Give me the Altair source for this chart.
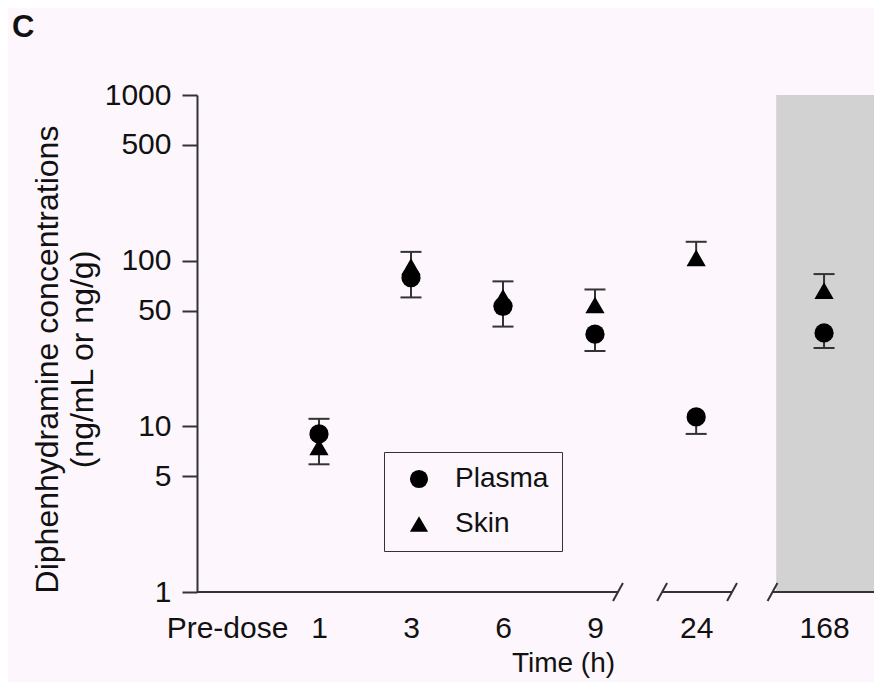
import altair as alt
import pandas as pd

# ---- data ----
categories = ["Pre-dose", "1", "3", "6", "9", "24", "168"]
times = ["1", "3", "6", "9", "24", "168"]
plasma_mean = [9.0, 79, 53, 36, 11.4, 36.6]
plasma_sd = [3.1, 19, 13, 7.5, 2.4, 6.9]     # drawn downward
skin_mean = [7.5, 92, 60, 54, 104, 66]
skin_sd = [3.6, 21, 15, 13, 26, 17]           # drawn upward
y_ticks = [1, 5, 10, 50, 100, 500, 1000]
y_domain = [1, 1000]
panel_label = ["C"]

# ---- layout of the broken time axis (slot units) ----
slot = [0, 1, 2, 3, 4, 5.1, 6.49]
x_domain = [-0.326, 7.033]
seg_start = [-0.326, 4.73, 5.93]
seg_end = [4.25, 5.49, 7.033]
break_pos = [4.25, 4.73, 5.49, 5.93]
shade_start, shade_end = 5.97, 7.033

FONT = "Liberation Sans"
INK = "#333333"
BG = "#fdf7fd"

pos = dict(zip(categories, slot))
rows = []
for t, m, s in zip(times, skin_mean, skin_sd):
    rows.append({"series": "Skin", "time": t, "pos": pos[t], "mean": m, "end": m + s})
for t, m, s in zip(times, plasma_mean, plasma_sd):
    rows.append({"series": "Plasma", "time": t, "pos": pos[t], "mean": m, "end": m - s})
df = pd.DataFrame(rows)

segs = pd.DataFrame({"x": seg_start, "x2": seg_end, "y": [y_domain[0]] * len(seg_start)})
brk = pd.DataFrame({"x": break_pos, "y": [y_domain[0]] * len(break_pos)})
shade = pd.DataFrame({"x": [shade_start], "x2": [shade_end], "y": [y_domain[0]], "y2": [y_domain[1]]})

xscale = alt.Scale(domain=x_domain, nice=False, zero=False)
yscale = alt.Scale(type="log", domain=y_domain, nice=False)

label_expr = " : ".join(
    f"datum.value == {p} ? '{c}'" for p, c in zip(slot, categories)
) + " : ''"

x_axis = alt.Axis(
    values=slot, labelExpr=label_expr, domain=False, ticks=False, grid=False,
    labelFontSize=30, labelFont=FONT, labelColor="#111", labelPadding=21,
    labelFlush=False, labelOverlap=False,
    title="Time (h)", titleFont=FONT, titleFontSize=28, titleFontWeight="normal",
    titleColor="#111", titleX=366, titleY=71, titleBaseline="middle", titleAnchor="middle",
)
y_axis = alt.Axis(
    values=y_ticks, format="d", grid=False, domainColor=INK, domainWidth=2,
    tickColor=INK, tickWidth=2, tickSize=15, labelFontSize=30, labelFont=FONT,
    labelColor="#111", labelPadding=11,
    title=["Diphenhydramine concentrations", "(ng/mL or ng/g)"],
    titleFont=FONT, titleFontSize=32, titleFontWeight="normal", titleColor="#111",
    titleLineHeight=35, titleAngle=270, titleX=-150, titleY=264,
    titleBaseline="middle", titleAlign="center",
)

bg = alt.Chart(shade).mark_rect(color="#d2d2d2").encode(
    x=alt.X("x:Q", scale=xscale, axis=x_axis),
    x2="x2:Q",
    y=alt.Y("y:Q", scale=yscale, axis=y_axis),
    y2="y2:Q",
)

axis_segs = alt.Chart(segs).mark_rule(color=INK, strokeWidth=2).encode(
    x=alt.X("x:Q", scale=xscale), x2="x2:Q", y=alt.Y("y:Q", scale=yscale)
)

slashes = alt.Chart(brk).mark_point(
    shape="M -0.55 1 L 0.55 -1", filled=False, size=324, strokeWidth=2, color=INK, opacity=1
).encode(x=alt.X("x:Q", scale=xscale), y=alt.Y("y:Q", scale=yscale))

err = alt.Chart(df).mark_rule(color=INK, strokeWidth=2).encode(
    x=alt.X("pos:Q", scale=xscale), y=alt.Y("mean:Q", scale=yscale), y2="end:Q"
)
caps = alt.Chart(df).mark_tick(orient="horizontal", size=21, thickness=2, color=INK, opacity=1).encode(
    x=alt.X("pos:Q", scale=xscale), y=alt.Y("end:Q", scale=yscale)
)

points = alt.Chart(df).mark_point(
    filled=True, color="black", opacity=1, strokeWidth=0, size=370
).encode(
    x=alt.X("pos:Q", scale=xscale),
    y=alt.Y("mean:Q", scale=yscale),
    shape=alt.Shape(
        "series:N",
        scale=alt.Scale(domain=["Plasma", "Skin"], range=["circle", "triangle-up"]),
        legend=alt.Legend(
            title=None, orient="none", legendX=187, legendY=357,
            strokeColor=INK, fillColor=BG, padding=13,
            labelFont=FONT, labelFontSize=28, labelColor="#111",
            symbolSize=330, symbolFillColor="black", symbolStrokeColor="black",
            symbolStrokeWidth=0, symbolOffset=8, labelOffset=22, rowPadding=17,
        ),
    ),
    order=alt.Order("series:N", sort="descending"),
)

panel = alt.Chart(pd.DataFrame({"label": panel_label})).mark_text(
    align="left", baseline="alphabetic", fontSize=31, fontWeight="bold", font=FONT, color="#111"
).encode(text="label:N", x=alt.value(-185), y=alt.value(-58))

chart = (
    alt.layer(bg, axis_segs, slashes, err, caps, points, panel)
    .properties(
        width=677, height=497,
        autosize=alt.AutoSizeParams(type="none"),
        padding={"left": 189, "top": 87, "right": 0, "bottom": 90},
    )
    .configure(background=BG)
    .configure_view(stroke=None)
)

chart.save("out.html", embed_options={"renderer": "svg", "actions": False})
